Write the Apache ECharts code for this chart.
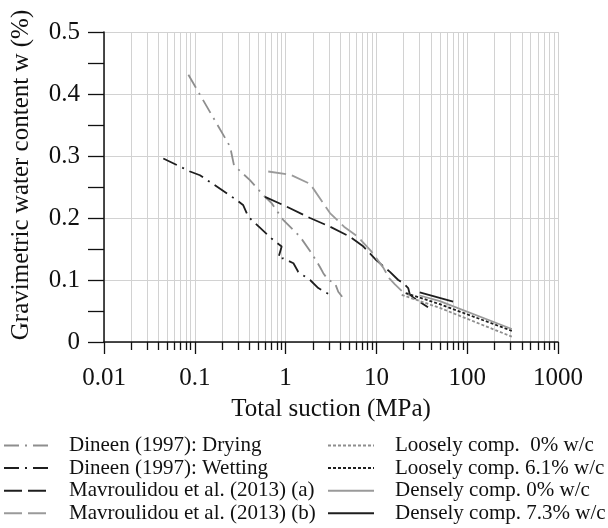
<!DOCTYPE html>
<html>
<head>
<meta charset="utf-8">
<script src="https://cdn.jsdelivr.net/npm/echarts@6/dist/echarts.min.js"></script>
<style>
html,body{margin:0;padding:0;background:#fff;}
#chart{width:608px;height:528px;}
</style>
</head>
<body>
<div id="chart"></div>
<script>
// ---- data (suction MPa, gravimetric water content) ----
const seriesNames = [
  'Dineen (1997): Drying',
  'Dineen (1997): Wetting',
  'Mavroulidou et al. (2013) (a)',
  'Mavroulidou et al. (2013) (b)',
  'Loosely comp.  0% w/c',
  'Loosely comp. 6.1% w/c',
  'Densely comp. 0% w/c',
  'Densely comp. 7.3% w/c'
];
const dineenDrying = [[0.085,0.431],[0.245,0.315],[0.27,0.285],[0.405,0.261],[0.567,0.237],[0.70,0.224],[0.94,0.197],[1.44,0.170],[1.94,0.143],[2.39,0.121],[2.6,0.111],[2.95,0.100],[3.5,0.095],[3.8,0.081],[4.2,0.073]];
const dineenWetting = [[0.045,0.296],[0.0886,0.275],[0.114,0.269],[0.289,0.229],[0.34,0.221],[0.388,0.202],[0.70,0.167],[0.905,0.154],[0.83,0.135],[0.94,0.135],[1.22,0.127],[1.38,0.113],[1.86,0.100],[2.29,0.087],[3.08,0.076]];
const mavA = [[0.593,0.234],[0.94,0.221],[1.86,0.200],[3.08,0.186],[5.1,0.170],[7.2,0.154],[9.95,0.132],[14.1,0.113],[17.4,0.100],[19.8,0.095],[22.4,0.087],[23.4,0.076],[26.6,0.070],[37,0.056]];
const mavB = [[0.644,0.275],[1.12,0.270],[1.86,0.255],[3.08,0.208],[4.4,0.186],[6.2,0.170],[8.7,0.147],[11.9,0.120],[13.8,0.103],[16,0.093],[19.8,0.080],[23,0.076]];
const loose0 = [[19,0.076],[50,0.055],[310,0.0086]];
const loose61 = [[21,0.079],[50,0.061],[310,0.018]];
const dense0 = [[30,0.075],[50,0.066],[310,0.021]];
const dense73 = [[30,0.080],[70,0.065]];
const xTickLabels = ['0.01','0.1','1','10','100','1000'];
const yTickLabels = ['0','0.1','0.2','0.3','0.4','0.5'];

const BLACK = '#1e1e1e', GRAY = '#8e8e8e', LGRAY = '#9a9a9a';
const FONT = 'Liberation Serif';
const styles = [
  {color: GRAY, type: [15,6,2,6]},
  {color: BLACK, type: [15,6,2,6]},
  {color: BLACK, type: [18,6]},
  {color: LGRAY, type: [18,6]},
  {color: GRAY, type: [3,2]},
  {color: BLACK, type: [3,2]},
  {color: LGRAY, type: 'solid'},
  {color: BLACK, type: 'solid'}
];
const datasets = [dineenDrying, dineenWetting, mavA, mavB, loose0, loose61, dense0, dense73];

const series = datasets.map((d, i) => ({
  name: seriesNames[i],
  type: 'line',
  data: d,
  symbol: 'none',
  showSymbol: false,
  smooth: false,
  animation: false,
  color: styles[i].color,
  lineStyle: {color: styles[i].color, width: 1.8, type: styles[i].type}
}));

const legendCommon = {
  orient: 'vertical',
  top: 435,
  padding: 0,
  itemGap: 1.6,
  itemHeight: 14,
  itemWidth: 46,
  selectedMode: false,
  itemStyle: {opacity: 0, borderWidth: 0},
  lineStyle: {width: 2},
  textStyle: {fontFamily: FONT, fontSize: 21, color: '#111'}
};

const chart = echarts.init(document.getElementById('chart'), null, {renderer: 'canvas'});
chart.setOption({
  backgroundColor: '#fff',
  animation: false,
  grid: {left: 104, right: 50, top: 32, bottom: 186, containLabel: false},
  legend: [
    Object.assign({}, legendCommon, {left: 3, data: seriesNames.slice(0, 4),
      textStyle: Object.assign({}, legendCommon.textStyle, {padding: [0,0,0,14]})}),
    Object.assign({}, legendCommon, {left: 327, data: seriesNames.slice(4),
      textStyle: Object.assign({}, legendCommon.textStyle, {padding: [0,0,0,16]})})
  ],
  xAxis: {
    type: 'log',
    logBase: 10,
    min: 0.01,
    max: 1000,
    name: 'Total suction (MPa)',
    nameLocation: 'middle',
    nameGap: 55,
    nameTextStyle: {fontFamily: FONT, fontSize: 25, color: '#111'},
    axisLine: {show: true, lineStyle: {color: '#111', width: 1.5}},
    axisTick: {show: true, length: 12, lineStyle: {color: '#111', width: 1.3}},
    minorTick: {show: true, splitNumber: 9, length: 8, lineStyle: {color: '#111', width: 1.3}},
    splitLine: {show: true, lineStyle: {color: '#d2d2d2', width: 1}},
    minorSplitLine: {show: true, lineStyle: {color: '#d2d2d2', width: 1}},
    axisLabel: {
      fontFamily: FONT, fontSize: 25, color: '#111', margin: 24,
      formatter: function (v) {
        const k = Math.round(Math.log10(v)) + 2;
        return xTickLabels[k] !== undefined ? xTickLabels[k] : '';
      }
    }
  },
  yAxis: {
    type: 'value',
    min: 0,
    max: 0.5,
    interval: 0.1,
    name: 'Gravimetric water content w (%)',
    nameLocation: 'middle',
    nameGap: 70,
    nameTextStyle: {fontFamily: FONT, fontSize: 25, color: '#111', padding: [0,0,0,24]},
    axisLine: {show: true, lineStyle: {color: '#111', width: 1.5}},
    axisTick: {show: true, length: 16, lineStyle: {color: '#111', width: 1.3}},
    minorTick: {show: true, splitNumber: 2, length: 16, lineStyle: {color: '#111', width: 1.3}},
    splitLine: {show: true, lineStyle: {color: '#d2d2d2', width: 1}},
    axisLabel: {
      fontFamily: FONT, fontSize: 25, color: '#111', margin: 24,
      formatter: function (v) {
        const k = Math.round(v * 10);
        return yTickLabels[k] !== undefined ? yTickLabels[k] : '';
      }
    }
  },
  series: series
});
</script>
</body>
</html>
